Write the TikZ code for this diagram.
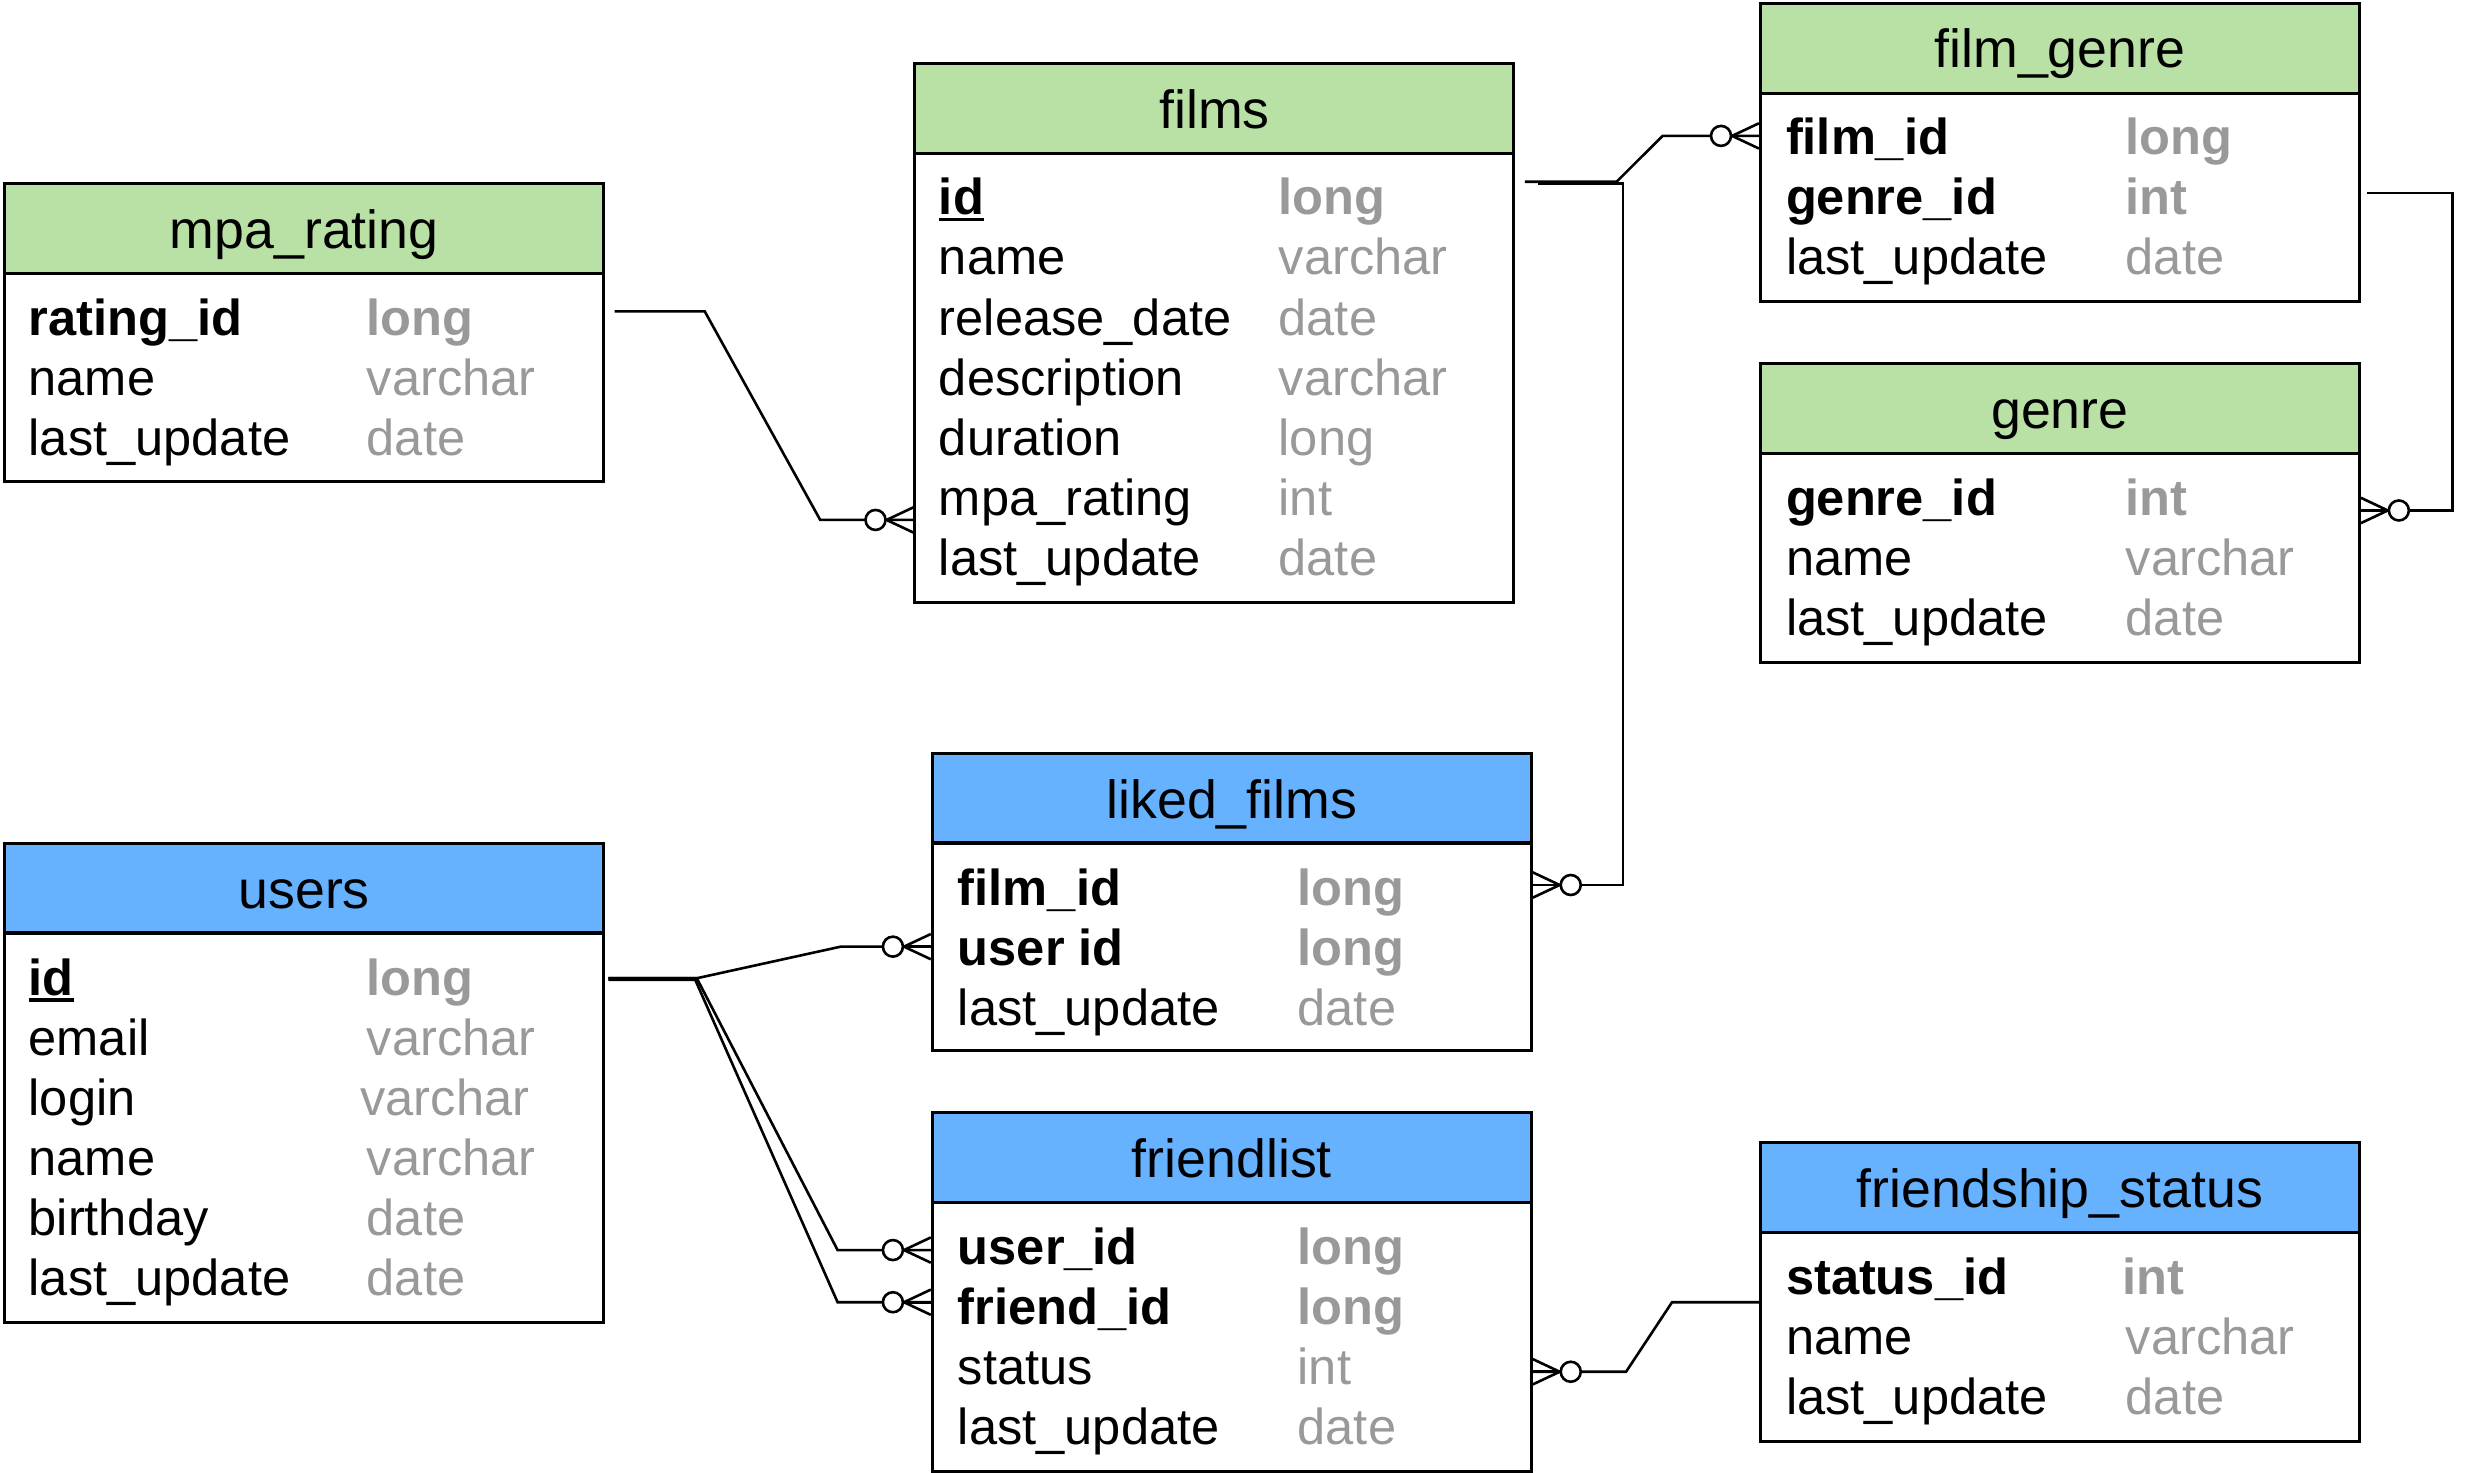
\documentclass[tikz,border=0pt]{standalone}
\usepackage{fontspec}
\setmainfont{Liberation Sans}
\usetikzlibrary{calc}
\definecolor{hgreen}{HTML}{B9E0A5}
\definecolor{hblue}{HTML}{66B2FF}
\definecolor{tgray}{HTML}{999999}
\newcommand\rowfont{\fontsize{50.6pt}{60pt}\selectfont}
\newcommand\hdrfont{\fontsize{53.7pt}{64pt}\selectfont}
\newcommand\keyul[1]{\setbox0\hbox{#1}\rlap{\rule[-6pt]{\wd0}{3.2pt}}#1}
\begin{document}
\begin{tikzpicture}[x=1.5804pt,y=-1.5804pt,
  hdr/.style={draw=black, line width=3pt, anchor=north west, inner sep=0pt, minimum width=599pt, minimum height=90.1pt},
  body/.style={draw=black, line width=3pt, anchor=north west, inner sep=0pt, minimum width=599pt},
  title/.style={anchor=base, inner sep=0pt, font=\hdrfont},
  fld/.style={anchor=base west, inner sep=0pt, font=\rowfont},
  typ/.style={anchor=base west, inner sep=0pt, font=\rowfont, text=tgray},
  key/.style={font=\rowfont\bfseries},
  conn/.style={line width=2.6pt, line join=miter},
  zmany/.pic={
    \draw[conn] (0,8) -- (17,0) -- (0,-8);
    \draw[conn] (0,0) -- (17,0);
    \draw[conn, fill=white] (24,0) circle[radius=10pt];
  }
]
\useasboundingbox (0,0) rectangle (1568,932);

% ---------- mpa_rating ----------
\node[hdr, fill=hgreen] (mpa-h) at (2,115) {};
\node[body, minimum height=208.6pt] (mpa-b) at (2,172) {};
\node[title] (mpa-t) at ($(mpa-h.north)+(0,42)$) {mpa\_rating};
\node[fld,key] (mpa-n1) at (18,212) {rating\_id};
\node[typ,key] (mpa-y1) at (232,212) {long};
\node[fld] (mpa-n2) at (18,250) {name};
\node[typ] (mpa-y2) at (232,250) {varchar};
\node[fld] (mpa-n3) at (18,288) {last\_update};
\node[typ] (mpa-y3) at (232,288) {date};

% ---------- films ----------
\node[hdr, fill=hgreen] (films-h) at (578,39) {};
\node[body, minimum height=448.8pt] (films-b) at (578,96) {};
\node[title] (films-t) at ($(films-h.north)+(0,42)$) {films};
\node[fld,key] (films-n1) at (594,136) {\keyul{id}};
\node[typ,key] (films-y1) at (809,136) {long};
\node[fld] (films-n2) at (594,174) {name};
\node[typ] (films-y2) at (809,174) {varchar};
\node[fld] (films-n3) at (594,212) {release\_date};
\node[typ] (films-y3) at (809,212) {date};
\node[fld] (films-n4) at (594,250) {description};
\node[typ] (films-y4) at (809,250) {varchar};
\node[fld] (films-n5) at (594,288) {duration};
\node[typ] (films-y5) at (809,288) {long};
\node[fld] (films-n6) at (594,326) {mpa\_rating};
\node[typ] (films-y6) at (809,326) {int};
\node[fld] (films-n7) at (594,364) {last\_update};
\node[typ] (films-y7) at (809,364) {date};

% ---------- film_genre ----------
\node[hdr, fill=hgreen] (fg-h) at (1113,1) {};
\node[body, minimum height=208.6pt] (fg-b) at (1113,58) {};
\node[title] (fg-t) at ($(fg-h.north)+(0,42)$) {film\_genre};
\node[fld,key] (fg-n1) at (1130,98) {film\_id};
\node[typ,key] (fg-y1) at (1345,98) {long};
\node[fld,key] (fg-n2) at (1130,136) {genre\_id};
\node[typ,key] (fg-y2) at (1345,136) {int};
\node[fld] (fg-n3) at (1130,174) {last\_update};
\node[typ] (fg-y3) at (1345,174) {date};

% ---------- genre ----------
\node[hdr, fill=hgreen] (gen-h) at (1113,229) {};
\node[body, minimum height=208.6pt] (gen-b) at (1113,286) {};
\node[title] (gen-t) at ($(gen-h.north)+(0,42)$) {genre};
\node[fld,key] (gen-n1) at (1130,326) {genre\_id};
\node[typ,key] (gen-y1) at (1345,326) {int};
\node[fld] (gen-n2) at (1130,364) {name};
\node[typ] (gen-y2) at (1345,364) {varchar};
\node[fld] (gen-n3) at (1130,402) {last\_update};
\node[typ] (gen-y3) at (1345,402) {date};

% ---------- liked_films ----------
\node[hdr, fill=hblue] (lf-h) at (589,476) {};
\node[body, minimum height=208.6pt] (lf-b) at (589,532) {};
\node[title] (lf-t) at ($(lf-h.north)+(0,42)$) {liked\_films};
\node[fld,key] (lf-n1) at (606,573) {film\_id};
\node[typ,key] (lf-y1) at (821,573) {long};
\node[fld,key] (lf-n2) at (606,611) {user id};
\node[typ,key] (lf-y2) at (821,611) {long};
\node[fld] (lf-n3) at (606,649) {last\_update};
\node[typ] (lf-y3) at (821,649) {date};

% ---------- users ----------
\node[hdr, fill=hblue] (us-h) at (2,533) {};
\node[body, minimum height=390.4pt] (us-b) at (2,589) {};
\node[title] (us-t) at ($(us-h.north)+(0,42)$) {users};
\node[fld,key] (us-n1) at (18,630) {\keyul{id}};
\node[typ,key] (us-y1) at (232,630) {long};
\node[fld] (us-n2) at (18,668) {email};
\node[typ] (us-y2) at (232,668) {varchar};
\node[fld] (us-n3) at (18,706) {login};
\node[typ] (us-y3) at (228,706) {varchar};
\node[fld] (us-n4) at (18,744) {name};
\node[typ] (us-y4) at (232,744) {varchar};
\node[fld] (us-n5) at (18,782) {birthday};
\node[typ] (us-y5) at (232,782) {date};
\node[fld] (us-n6) at (18,820) {last\_update};
\node[typ] (us-y6) at (232,820) {date};

% ---------- friendlist ----------
\node[hdr, fill=hblue] (fl-h) at (589,703) {};
\node[body, minimum height=268.7pt] (fl-b) at (589,760) {};
\node[title] (fl-t) at ($(fl-h.north)+(0,42)$) {friendlist};
\node[fld,key] (fl-n1) at (606,800) {user\_id};
\node[typ,key] (fl-y1) at (821,800) {long};
\node[fld,key] (fl-n2) at (606,838) {friend\_id};
\node[typ,key] (fl-y2) at (821,838) {long};
\node[fld] (fl-n3) at (606,876) {status};
\node[typ] (fl-y3) at (821,876) {int};
\node[fld] (fl-n4) at (606,914) {last\_update};
\node[typ] (fl-y4) at (821,914) {date};

% ---------- friendship_status ----------
\node[hdr, fill=hblue] (fs-h) at (1113,722) {};
\node[body, minimum height=208.6pt] (fs-b) at (1113,779) {};
\node[title] (fs-t) at ($(fs-h.north)+(0,42)$) {friendship\_status};
\node[fld,key] (fs-n1) at (1130,819) {status\_id};
\node[typ,key] (fs-y1) at (1343,819) {int};
\node[fld] (fs-n2) at (1130,857) {name};
\node[typ] (fs-y2) at (1345,857) {varchar};
\node[fld] (fs-n3) at (1130,895) {last\_update};
\node[typ] (fs-y3) at (1345,895) {date};

% ---------- connectors ----------
% mpa_rating -> films
\coordinate (c1a) at ($(mpa-b.north east)+(6,25)$);
\coordinate (c1b) at ($(films-b.north west)+(0,233)$);
\draw[conn] (c1a) -- ++(57,0) -- ($(c1b)+(-59,0)$) -- (c1b);
\pic[rotate=180] at (c1b) {zmany};

% films -> film_genre
\coordinate (c2a) at ($(films-b.north east)+(6,19)$);
\coordinate (c2b) at ($(fg-b.north west)+(0,28)$);
\draw[conn] (c2a) -- ++(58,0) -- ($(c2b)+(-61,0)$) -- (c2b);
\pic[rotate=180] at (c2b) {zmany};

% films -> liked_films
\coordinate (c3a) at ($(films-b.north east)+(14,20)$);
\coordinate (c3b) at ($(lf-b.north east)+(0,28)$);
\draw[conn] (c3a) -- (c3a -| 1027,0) -- (1027,0 |- c3b) -- (c3b);
\pic at (c3b) {zmany};

% film_genre -> genre
\coordinate (c4a) at ($(fg-b.north east)+(4,64)$);
\coordinate (c4b) at ($(gen-b.north east)+(0,37)$);
\draw[conn] (c4a) -- (c4a -| 1552,0) -- (1552,0 |- c4b) -- (c4b);
\pic at (c4b) {zmany};

% users -> liked_films
\coordinate (c5a) at ($(us-b.north east)+(2,30)$);
\coordinate (c5b) at ($(lf-b.north west)+(0,67)$);
\draw[conn] (c5a) -- ++(56,0) -- ($(c5b)+(-57,0)$) -- (c5b);
\pic[rotate=180] at (c5b) {zmany};

% users -> friendlist (user_id)
\coordinate (c6b) at ($(fl-b.north west)+(0,31)$);
\draw[conn] (c5a) -- ++(56,0) -- ($(c6b)+(-59,0)$) -- (c6b);
\pic[rotate=180] at (c6b) {zmany};

% users -> friendlist (friend_id)
\coordinate (c7a) at ($(us-b.north east)+(2,31)$);
\coordinate (c7b) at ($(fl-b.north west)+(0,64)$);
\draw[conn] (c7a) -- ++(55,0) -- ($(c7b)+(-59,0)$) -- (c7b);
\pic[rotate=180] at (c7b) {zmany};

% friendship_status -> friendlist
\coordinate (c8a) at ($(fs-b.north west)+(0,45)$);
\coordinate (c8b) at ($(fl-b.north east)+(0,108)$);
\draw[conn] (c8a) -- ++(-55,0) -- ($(c8b)+(59,0)$) -- (c8b);
\pic at (c8b) {zmany};
\end{tikzpicture}
\end{document}
